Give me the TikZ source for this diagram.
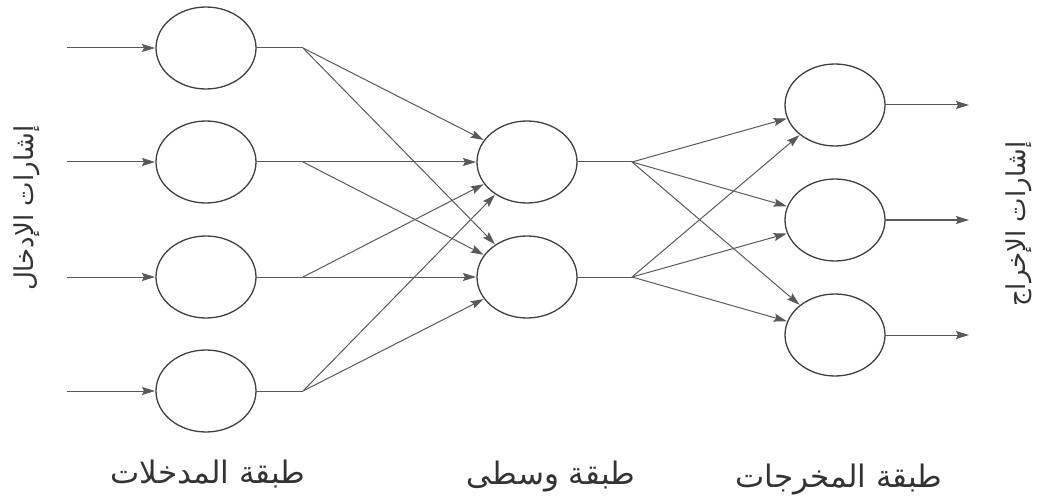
\documentclass[tikz,border=0pt]{standalone}
\usepackage{fontspec}
\newfontfamily\arabicfont[Script=Arabic]{DejaVu Sans}
\TeXXeTstate=1
\usetikzlibrary{arrows.meta,shapes.geometric}
\begin{document}
\begin{tikzpicture}[x=1pt,y=-1pt,
  neuron/.style={draw=black!75, line width=1.3pt, ellipse, minimum width=100pt, minimum height=82pt, inner sep=0pt, outer sep=0pt},
  link/.style={draw=black!65, line width=1pt},
  arr/.style={link, -{Stealth[length=13pt,width=8pt,inset=2pt]}, shorten >=1pt},
  lab/.style={inner sep=0pt, font=\arabicfont\fontsize{31}{34}\selectfont, text=black!80},
  vlab/.style={lab, rotate=90, font=\arabicfont\fontsize{26}{30}\selectfont}]
\useasboundingbox (0,0) rectangle (1041,497);
% input layer
\node[neuron] (i1) at (206,48) {};
\node[neuron] (i2) at (206,162) {};
\node[neuron] (i3) at (206,277) {};
\node[neuron] (i4) at (206,391) {};
% hidden layer
\node[neuron] (h1) at (527,162) {};
\node[neuron] (h2) at (527,277) {};
% output layer
\node[neuron] (o1) at (835,105) {};
\node[neuron] (o2) at (835,220) {};
\node[neuron] (o3) at (835,335) {};
% input signals
\foreach \k/\y in {1/48,2/162,3/277,4/391}{
  \coordinate (s\k) at (67,\y);
  \coordinate (j\k) at (303,\y);
  \draw[arr] (s\k) -- (i\k);
  \draw[link] (i\k.east) -- (j\k);
  \draw[arr] (j\k) -- (h1);
  \draw[arr] (j\k) -- (h2);
}
% hidden to output
\foreach \k/\y in {1/162,2/277}{
  \coordinate (g\k) at (632,\y);
  \draw[link] (h\k.east) -- (g\k);
  \draw[arr] (g\k) -- (o1);
  \draw[arr] (g\k) -- (o2);
  \draw[arr] (g\k) -- (o3);
}
% output signals
\foreach \k/\y in {1/105,2/220,3/335}{
  \coordinate (t\k) at (970,\y);
  \draw[arr] (o\k) -- (t\k);
}
% labels
\node[lab] (lin) at (208,474) {\beginR طبقة المدخلات\endR};
\node[lab] (lhid) at (551,477) {\beginR طبقة وسطى\endR};
\node[lab] (lout) at (839,480) {\beginR طبقة المخرجات\endR};
\node[vlab] (sin) at (27,208) {\beginR إشارات الإدخال\endR};
\node[vlab] (sout) at (1019,224) {\beginR إشارات الإخراج\endR};
\end{tikzpicture}
\end{document}
